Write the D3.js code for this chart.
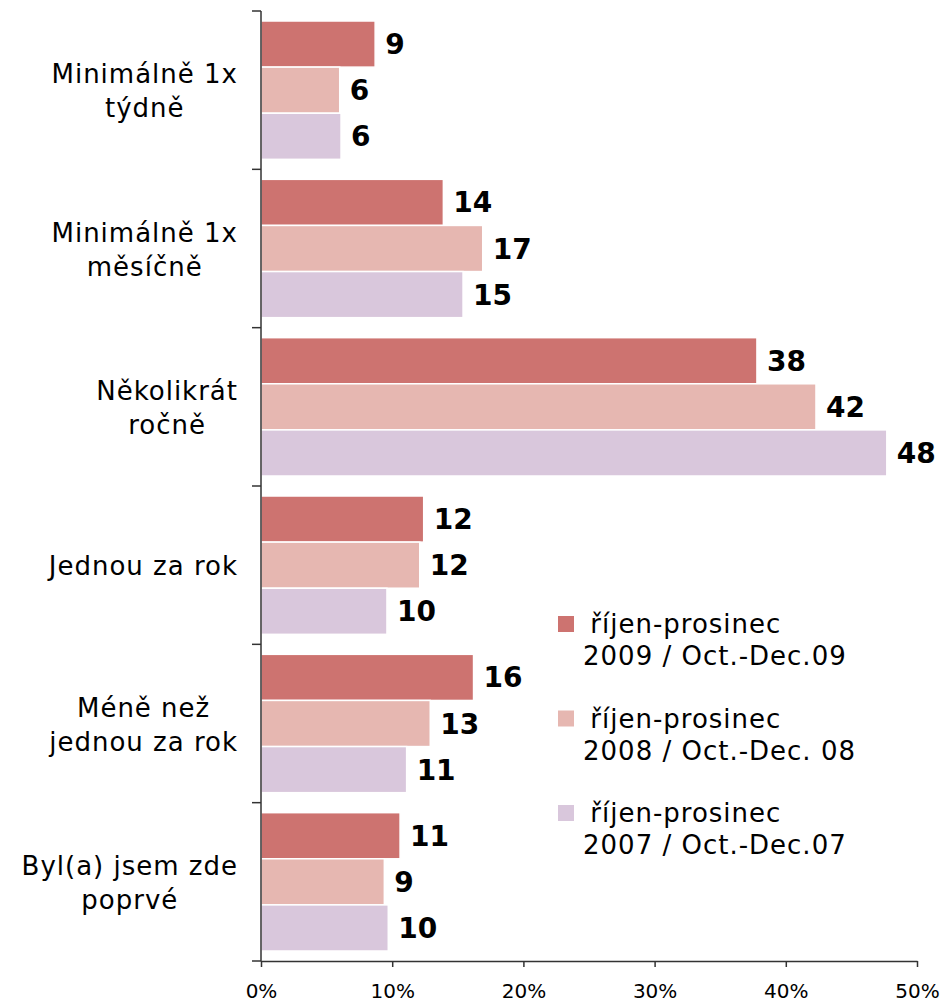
<!DOCTYPE html>
<html>
<head>
<meta charset="utf-8">
<script src="https://cdn.jsdelivr.net/npm/d3@7"></script>
<style>
  body { margin: 0; background: #fff; }
  text { font-family: Verdana, "DejaVu Sans", sans-serif; }
</style>
</head>
<body>
<script>
// categories (top to bottom), each label split into lines
var categories = ["Minimálně 1x týdně", "Minimálně 1x měsíčně", "Několikrát ročně",
                  "Jednou za rok", "Méně než jednou za rok", "Byl(a) jsem zde poprvé"];
var categoryLines = [
  ["Minimálně 1x", "týdně"],
  ["Minimálně 1x", "měsíčně"],
  ["Několikrát", "ročně"],
  ["Jednou za rok"],
  ["Méně než", "jednou za rok"],
  ["Byl(a) jsem zde", "poprvé"]
];

var seriesNames = ["2009", "2008", "2007"];
var legendLines = [
  [" říjen-prosinec", "2009 / Oct.-Dec.09"],
  [" říjen-prosinec", "2008 / Oct.-Dec. 08"],
  [" říjen-prosinec", "2007 / Oct.-Dec.07"]
];
var colors = ["#cd7370", "#e6b7b1", "#d9c7dc"];

// percent values per series, same order as categories
var values2009 = [8.7, 13.9, 37.8, 12.4, 16.2, 10.6];
var values2008 = [6.0, 16.9, 42.3, 12.1, 12.9, 9.4];
var values2007 = [6.1, 15.4, 47.7, 9.6, 11.1, 9.7];
var seriesValues = [values2009, values2008, values2007];

var xTicks = [0, 10, 20, 30, 40, 50];

var width = 942, height = 1005;
var plotLeft = 261, plotRight = 917, plotTop = 11, plotBottom = 961;

var svg = d3.select("body").append("svg")
    .attr("width", width)
    .attr("height", height);

var x = d3.scaleLinear().domain([0, 50]).range([plotLeft, plotRight]);

var y = d3.scaleBand().domain(categories).range([plotTop, plotBottom]).padding(0);

var yInner = d3.scaleBand().domain(seriesNames)
    .range([10, y.bandwidth() - 10]).padding(0);

var fmt = d3.format(".0f");

//Bars
var groups = svg.selectAll("g.group")
    .data(categories)
    .enter().append("g")
    .attr("class", "group")
    .attr("transform", function(d) { return "translate(0," + y(d) + ")"; });

groups.each(function(cat, ci) {
  var g = d3.select(this);
  seriesNames.forEach(function(s, si) {
    var v = seriesValues[si][ci];
    g.append("rect")
        .attr("x", x(0))
        .attr("y", yInner(s))
        .attr("width", x(v) - x(0))
        .attr("height", yInner.bandwidth())
        .attr("fill", colors[si])
        .attr("stroke", "#fff")
        .attr("stroke-width", 1.5);
    g.append("text")
        .attr("x", x(v) + 10)
        .attr("y", yInner(s) + yInner.bandwidth() / 2)
        .attr("dy", "0.36em")
        .attr("font-size", 28)
        .attr("font-weight", "bold")
        .attr("fill", "#000")
        .text(fmt(v));
  });
});

//Category labels: lines centered inside a right aligned block
var labelRight = 238, lineH = 34;
var labels = svg.append("g").attr("font-size", 26).attr("letter-spacing", 1).attr("fill", "#000");
categoryLines.forEach(function(lines, ci) {
  var cy = y(categories[ci]) + y.bandwidth() / 2;
  var t = labels.append("g");
  var nodes = lines.map(function(line, i) {
    return t.append("text")
        .attr("y", cy + 10 + (i - (lines.length - 1) / 2) * lineH)
        .attr("text-anchor", "middle")
        .text(line);
  });
  var maxW = d3.max(nodes, function(n) { return n.node().getComputedTextLength(); });
  nodes.forEach(function(n) { n.attr("x", labelRight - maxW / 2); });
});

//Y axis with ticks between groups
var axisColor = "#333";
svg.append("line")
    .attr("x1", plotLeft).attr("x2", plotLeft)
    .attr("y1", plotTop).attr("y2", plotBottom)
    .attr("stroke", axisColor).attr("stroke-width", 1.5);

var boundaries = categories.map(function(d) { return y(d); }).concat([plotBottom]);
svg.selectAll("line.ytick")
    .data(boundaries)
    .enter().append("line")
    .attr("class", "ytick")
    .attr("x1", plotLeft - 9).attr("x2", plotLeft)
    .attr("y1", function(d) { return d; })
    .attr("y2", function(d) { return d; })
    .attr("stroke", axisColor).attr("stroke-width", 1.5);

//X axis
var xAxis = d3.axisBottom(x)
    .tickValues(xTicks)
    .tickSize(6)
    .tickSizeOuter(0)
    .tickFormat(function(d) { return d + "%"; });

var gx = svg.append("g")
    .attr("transform", "translate(0," + plotBottom + ")")
    .call(xAxis);
gx.attr("font-size", 20).attr("font-family", null);
gx.select(".domain").attr("stroke", axisColor).attr("stroke-width", 1.5);
gx.selectAll(".tick line").attr("stroke", axisColor).attr("stroke-width", 1.5);
gx.selectAll(".tick text")
    .attr("fill", "#000")
    .attr("y", 23);

//Legend
var legend = svg.append("g").attr("font-size", 26).attr("letter-spacing", 1).attr("fill", "#000");
legendLines.forEach(function(lines, i) {
  var ly = 616 + i * 94.5;
  legend.append("rect")
      .attr("x", 558).attr("y", ly)
      .attr("width", 16).attr("height", 16)
      .attr("fill", colors[i]);
  legend.append("text")
      .attr("x", 581).attr("y", ly + 17)
      .style("white-space", "pre")
      .text(lines[0]);
  legend.append("text")
      .attr("x", 583).attr("y", ly + 49)
      .text(lines[1]);
});
</script>
</body>
</html>
